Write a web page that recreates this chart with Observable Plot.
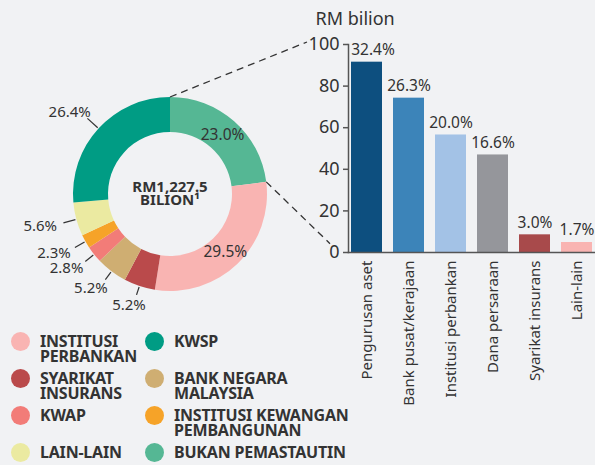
<!DOCTYPE html>
<html>
<head>
<meta charset="utf-8">
<script src="https://cdn.jsdelivr.net/npm/d3@7"></script>
<script src="https://cdn.jsdelivr.net/npm/@observablehq/plot@0.6"></script>
<style>
  html, body { margin: 0; padding: 0; background: #f1f2f4; }
  #wrap { position: relative; width: 595px; height: 465px; overflow: hidden; font-family: "Noto Sans", sans-serif; color: #333; }
  #wrap svg { position: absolute; left: 0; top: 0; }
  .leg { position: absolute; display: flex; align-items: flex-start; }
  .leg .dot { width: 19px; height: 19px; border-radius: 50%; flex: none; margin-top: -2px; margin-right: 10px; }
  .leg .lbl { font-weight: 700; font-size: 16px; line-height: 14.5px; white-space: pre; letter-spacing: -0.2px; color: #333; }
</style>
</head>
<body>
<div id="wrap"></div>
<script>
// ---- Donut data (pemegang sekuriti) ----
const sektor = ["Bukan Pemastautin", "Institusi Perbankan", "Syarikat Insurans", "Bank Negara Malaysia", "KWAP", "Institusi Kewangan Pembangunan", "Lain-lain", "KWSP"];
const peratusSektor = [23.0, 29.5, 5.2, 5.2, 2.8, 2.3, 5.6, 26.4];
const warnaSektor = ["#55b794", "#f9b4b2", "#ba4a4b", "#cfae72", "#f27c78", "#f6a328", "#ebeaa1", "#009c84"];
const jumlahTengah = ["RM1,227.5", "BILION¹"];

// ---- Legend ----
const legendKiri = ["INSTITUSI\nPERBANKAN", "SYARIKAT\nINSURANS", "KWAP", "LAIN-LAIN"];
const legendKiriSektor = ["Institusi Perbankan", "Syarikat Insurans", "KWAP", "Lain-lain"];
const legendKanan = ["KWSP", "BANK NEGARA\nMALAYSIA", "INSTITUSI KEWANGAN\nPEMBANGUNAN", "BUKAN PEMASTAUTIN"];
const legendKananSektor = ["KWSP", "Bank Negara Malaysia", "Institusi Kewangan Pembangunan", "Bukan Pemastautin"];

// ---- Bar data (Bukan Pemastautin breakdown) ----
const pemegang = ["Pengurusan aset", "Bank pusat/kerajaan", "Institusi perbankan", "Dana persaraan", "Syarikat insurans", "Lain-lain"];
const nilaiBar = [91.5, 74.2, 56.5, 46.9, 8.5, 4.8];
const peratusBar = [32.4, 26.3, 20.0, 16.6, 3.0, 1.7];
const warnaBar = ["#0d4f7f", "#3c84b9", "#a3c2e6", "#95969b", "#a84a4b", "#f9b4b2"];
const yTicks = [0, 20, 40, 60, 80, 100];
const yTajuk = "RM bilion";

const donutData = sektor.map((s, i) => ({sektor: s, pct: peratusSektor[i], warna: warnaSektor[i]}));
const barData = pemegang.map((p, i) => ({pemegang: p, nilai: nilaiBar[i], pct: peratusBar[i], warna: warnaBar[i]}));

const CX = 170, CY = 194, R0 = 62, R1 = 97;

function donutMark(index, scales, values, dims) {
  const g = d3.create("svg:g").attr("font-family", "'Noto Sans', sans-serif");
  const arcs = d3.pie().sort(null).value(d => d.pct)(donutData);
  const arc = d3.arc().innerRadius(R0).outerRadius(R1);
  const root = g.append("g").attr("transform", `translate(${CX},${CY})`);
  root.selectAll("path").data(arcs).join("path")
    .attr("d", arc).attr("fill", d => d.data.warna);
  // labels
  for (const a of arcs) {
    const mid = (a.startAngle + a.endAngle) / 2;
    const dx = Math.sin(mid), dy = -Math.cos(mid);
    const txt = a.data.pct.toFixed(1) + "%";
    if (mid < Math.PI) {
      const [x, y] = arc.centroid(a);
      root.append("text").attr("x", x).attr("y", y).attr("dy", "0.35em")
        .attr("text-anchor", "middle").attr("font-size", 15.5).attr("fill", "#333").text(txt);
    } else {
      const r2 = 112 - 6 * Math.max(0, -Math.cos(mid));
      root.append("line")
        .attr("x1", dx * 98).attr("y1", dy * 98).attr("x2", dx * r2).attr("y2", dy * r2)
        .attr("stroke", "#333").attr("stroke-width", 1.2);
      root.append("text").attr("x", dx * r2 + dx * 24).attr("y", dy * r2 + dy * 10).attr("dy", "0.35em")
        .attr("text-anchor", "middle").attr("font-size", 15).attr("fill", "#333").text(txt);
    }
  }
  // centre text
  root.append("text").attr("x", 0).attr("y", -2).attr("text-anchor", "middle")
    .attr("font-size", 15).attr("font-weight", 700).attr("fill", "#333").text(jumlahTengah[0]);
  root.append("text").attr("x", 0).attr("y", 10.5).attr("text-anchor", "middle")
    .attr("font-size", 15).attr("font-weight", 700).attr("fill", "#333").text(jumlahTengah[1]);
  // dashed connectors from the "Bukan Pemastautin" slice to the bar chart
  const s = arcs[0];
  const p1 = [CX + Math.sin(s.startAngle) * R1, CY - Math.cos(s.startAngle) * R1];
  const p2 = [CX + Math.sin(s.endAngle) * R1, CY - Math.cos(s.endAngle) * R1];
  const axisX = dims.marginLeft;
  const e1 = [axisX - 41, scales.y(100) - 2];
  const e2 = [axisX - 18, scales.y(4)];
  for (const [a, b] of [[p1, e1], [p2, e2]]) {
    g.append("line").attr("x1", a[0]).attr("y1", a[1]).attr("x2", b[0]).attr("y2", b[1])
      .attr("stroke", "#333").attr("stroke-width", 1.3).attr("stroke-dasharray", "7,5");
  }
  return g.node();
}

const pctText = d => d.pct.toFixed(1) + "%";

const chart = Plot.plot({
  width: 595,
  height: 465,
  marginLeft: 348,
  marginRight: 0,
  marginTop: 44,
  marginBottom: 213,
  style: {background: "transparent", fontFamily: "'Noto Sans', sans-serif", color: "#333", overflow: "visible"},
  x: {domain: pemegang, paddingInner: 0.26, paddingOuter: 0.07, axis: null},
  y: {domain: [0, 100], axis: null},
  color: {type: "identity"},
  marks: [
    donutMark,
    Plot.barY(barData, {x: "pemegang", y: "nilai", fill: "warna"}),
    Plot.frame({anchor: "left", stroke: "#555", strokeWidth: 1.5}),
    Plot.frame({anchor: "bottom", stroke: "#555", strokeWidth: 1.5}),
    Plot.axisY({ticks: yTicks, tickSize: 5, tickPadding: 4, fontSize: 18, label: null, stroke: "#555", strokeWidth: 1.5}),
    Plot.axisX({tickSize: 0, tickRotate: -90, tickPadding: 8, fontSize: 15, label: null, fill: "#333"}),
    Plot.text(barData, {filter: (d, i) => i === 0, x: "pemegang", y: "nilai", text: pctText, dy: -12, dx: 6, fontSize: 15.5, fill: "#333"}),
    Plot.text(barData, {filter: (d, i) => i > 0, x: "pemegang", y: "nilai", text: pctText, dy: -12, fontSize: 15.5, fill: "#333"}),
    Plot.text([yTajuk], {frameAnchor: "top-left", dx: -33, dy: -32, textAnchor: "start", fontSize: 18, fill: "#333"})
  ]
});

const wrap = document.getElementById("wrap");
wrap.appendChild(chart);

function addLegend(labels, keys, left) {
  labels.forEach((lab, i) => {
    const div = document.createElement("div");
    div.className = "leg";
    div.style.left = left + "px";
    div.style.top = (334 + i * 37) + "px";
    const dot = document.createElement("span");
    dot.className = "dot";
    dot.style.background = warnaSektor[sektor.indexOf(keys[i])];
    const t = document.createElement("span");
    t.className = "lbl";
    t.textContent = lab;
    div.appendChild(dot);
    div.appendChild(t);
    wrap.appendChild(div);
  });
}
addLegend(legendKiri, legendKiriSektor, 11);
addLegend(legendKanan, legendKananSektor, 145);
</script>
</body>
</html>
